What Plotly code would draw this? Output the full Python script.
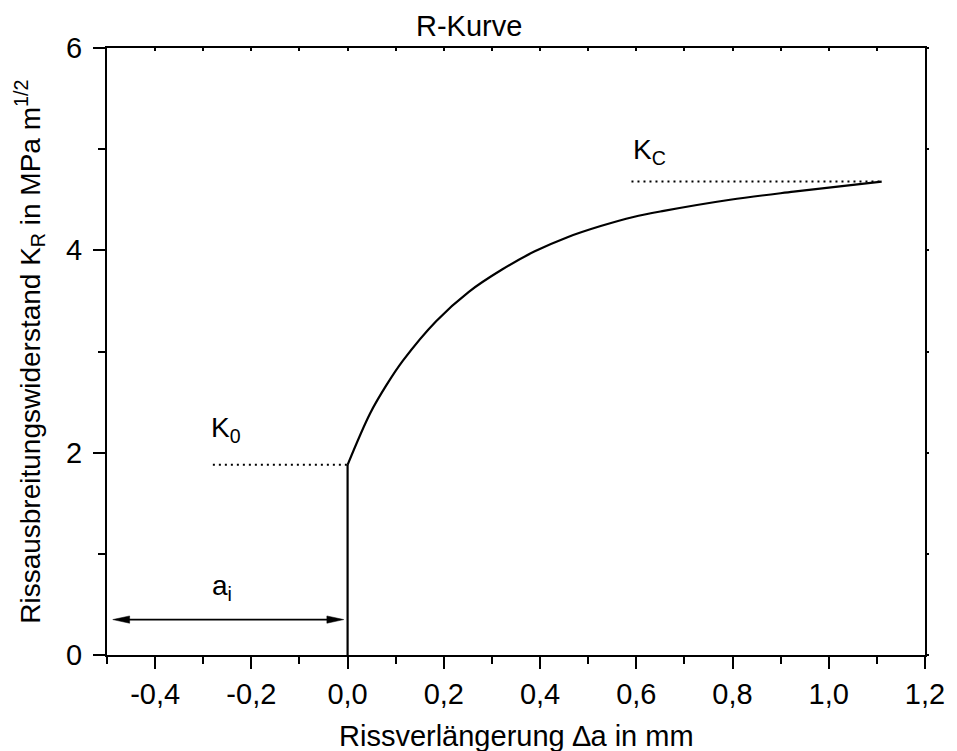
import plotly.graph_objects as go

# ---- data ----
curve_x = [0.0, 0.047, 0.081, 0.115, 0.184, 0.252, 0.321, 0.389, 0.457, 0.526, 0.594, 0.657, 0.795, 0.927, 1.11]
curve_y = [1.88, 2.39, 2.67, 2.91, 3.30, 3.59, 3.81, 3.99, 4.13, 4.24, 4.33, 4.39, 4.50, 4.58, 4.68]
K0 = 1.88
KC = 4.68
k0_line_x = [-0.28, 0.0]
kc_line_x = [0.59, 1.11]
arrow_x = [-0.488, -0.008]
arrow_y = 0.35
x_ticks = [-0.4, -0.2, 0.0, 0.2, 0.4, 0.6, 0.8, 1.0, 1.2]
x_ticklabels = ["-0,4", "-0,2", "0,0", "0,2", "0,4", "0,6", "0,8", "1,0", "1,2"]
y_ticks = [0, 2, 4, 6]
y_ticklabels = ["0", "2", "4", "6"]

FONT = "Arial, Liberation Sans, sans-serif"
BLACK = "#000000"

fig = go.Figure()

# vertical segment at crack start
fig.add_trace(go.Scatter(x=[curve_x[0], curve_x[0]], y=[0, curve_y[0]], mode="lines",
                         line=dict(color=BLACK, width=2.2), showlegend=False, hoverinfo="skip"))
# R-curve
fig.add_trace(go.Scatter(x=curve_x, y=curve_y, mode="lines",
                         line=dict(color=BLACK, width=2.2, shape="spline", smoothing=1.0),
                         showlegend=False, hoverinfo="skip"))
# dotted level lines
fig.add_trace(go.Scatter(x=k0_line_x, y=[K0, K0], mode="lines",
                         line=dict(color=BLACK, width=2, dash="2px,4px"), showlegend=False, hoverinfo="skip"))
fig.add_trace(go.Scatter(x=kc_line_x, y=[KC, KC], mode="lines",
                         line=dict(color=BLACK, width=2, dash="2px,4px"), showlegend=False, hoverinfo="skip"))

# double arrow for a_i
head_len = 0.035
head_half = 0.036
fig.add_trace(go.Scatter(x=[arrow_x[0] + head_len * 0.6, arrow_x[1] - head_len * 0.6], y=[arrow_y, arrow_y],
                         mode="lines", line=dict(color=BLACK, width=1.8), showlegend=False, hoverinfo="skip"))
fig.add_trace(go.Scatter(x=[arrow_x[0], arrow_x[0] + head_len, arrow_x[0] + head_len, arrow_x[0]],
                         y=[arrow_y, arrow_y + head_half, arrow_y - head_half, arrow_y],
                         mode="lines", fill="toself", fillcolor=BLACK, line=dict(color=BLACK, width=0.5),
                         showlegend=False, hoverinfo="skip"))
fig.add_trace(go.Scatter(x=[arrow_x[1], arrow_x[1] - head_len, arrow_x[1] - head_len, arrow_x[1]],
                         y=[arrow_y, arrow_y + head_half, arrow_y - head_half, arrow_y],
                         mode="lines", fill="toself", fillcolor=BLACK, line=dict(color=BLACK, width=0.5),
                         showlegend=False, hoverinfo="skip"))

ann_font = dict(family=FONT, size=28, color=BLACK)
fig.add_annotation(x=-0.288, y=2.04, text="K<sub>0</sub>", showarrow=False, xanchor="left", yanchor="bottom",
                   font=ann_font)
fig.add_annotation(x=0.59, y=4.78, text="K<sub>C</sub>", showarrow=False, xanchor="left", yanchor="bottom",
                   font=ann_font)
fig.add_annotation(x=-0.285, y=0.47, text="a<sub>i</sub>", showarrow=False, xanchor="left", yanchor="bottom",
                   font=ann_font)

# axis titles and chart title as annotations for precise placement
fig.add_annotation(x=0.5, xref="paper", y=-0.133, yref="paper", yanchor="middle",
                   text="Rissverlängerung \u2206a in mm", showarrow=False,
                   font=dict(family=FONT, size=29, color=BLACK))
fig.add_annotation(x=-0.095, xref="paper", y=0.5, yref="paper", xanchor="center", textangle=-90,
                   text="Rissausbreitungswiderstand K<sub>R</sub> in MPa m<sup>1/2</sup>", showarrow=False,
                   font=dict(family=FONT, size=28, color=BLACK))
fig.add_annotation(x=0.442, xref="paper", y=1.0, yref="paper", yanchor="bottom", yshift=4,
                   text="R-Kurve", showarrow=False, font=dict(family=FONT, size=29, color=BLACK))

axis_common = dict(showgrid=False, zeroline=False, linecolor=BLACK, linewidth=2,
                   tickcolor=BLACK, tickwidth=2, tickfont=dict(family=FONT, size=29, color=BLACK))

fig.update_layout(
    width=957, height=751,
    margin=dict(l=107, r=21, t=48, b=96),
    paper_bgcolor="white", plot_bgcolor="white",
    xaxis=dict(range=[-0.5, 1.2], tickvals=x_ticks, ticktext=x_ticklabels, ticks="outside", ticklen=12,
               mirror=True, minor=dict(dtick=0.1, tick0=0, ticks="outside", ticklen=7, tickwidth=2, tickcolor=BLACK),
               **axis_common),
    yaxis=dict(range=[0, 6], tickvals=y_ticks, ticktext=y_ticklabels, ticks="outside", ticklen=12,
               ticklabelstandoff=5,
               mirror=True, minor=dict(dtick=1, tick0=0, ticks="outside", ticklen=7, tickwidth=2, tickcolor=BLACK),
               **axis_common),
    xaxis2=dict(overlaying="x", side="top", anchor="y", range=[-0.5, 1.2], matches="x",
                showgrid=False, zeroline=False, showline=False, showticklabels=False,
                ticks="inside", ticklen=3, tickwidth=1.5, tickcolor=BLACK, dtick=0.1, tick0=0),
    yaxis2=dict(overlaying="y", side="right", anchor="x", range=[0, 6], matches="y",
                showgrid=False, zeroline=False, showline=False, showticklabels=False,
                ticks="outside", ticklen=3, tickwidth=1.5, tickcolor=BLACK, dtick=1, tick0=0),
)
# invisible traces to activate mirror axes
fig.add_trace(go.Scatter(x=[None], y=[None], xaxis="x2", yaxis="y2", showlegend=False, hoverinfo="skip"))

fig.write_html("out.html")
